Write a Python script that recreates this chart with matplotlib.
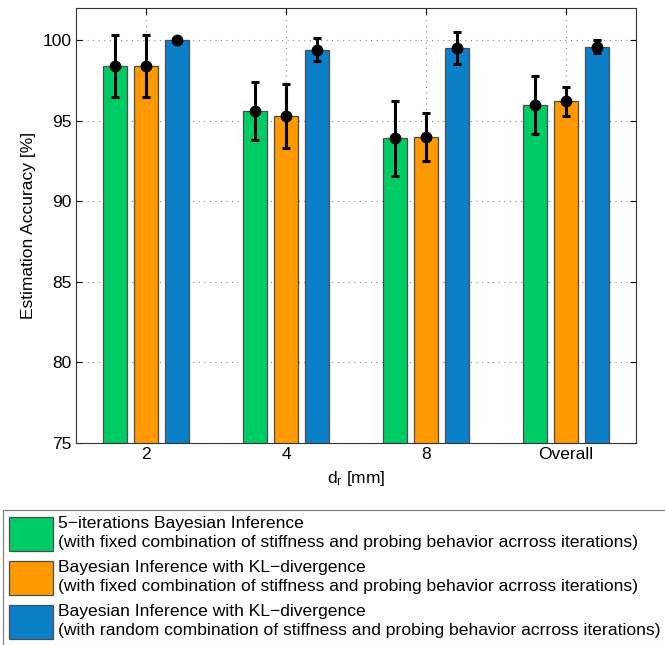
import numpy as np
import matplotlib
matplotlib.use("Agg")
import matplotlib.pyplot as plt
from matplotlib.patches import Patch

plt.rcParams["font.family"] = ["Liberation Sans", "DejaVu Sans"]
plt.rcParams["mathtext.fontset"] = "custom"
plt.rcParams["mathtext.rm"] = "Liberation Sans"
plt.rcParams["mathtext.it"] = "Liberation Sans:italic"

# -------------------------
# Data
# -------------------------
categories = ["2", "4", "8", "Overall"]

fixed_mean = [98.4, 95.6, 93.9, 96.0]
fixed_std = [1.9, 1.8, 2.3, 1.8]

kl_fixed_mean = [98.4, 95.3, 94.0, 96.2]
kl_fixed_std = [1.95, 2.0, 1.5, 0.88]

kl_random_mean = [100.0, 99.4, 99.5, 99.6]
kl_random_std = [0.0, 0.72, 1.0, 0.42]

series_labels = [
    "5\u2212iterations Bayesian Inference\n"
    "(with fixed combination of stiffness and probing behavior acrross iterations)",
    "Bayesian Inference with KL\u2212divergence\n"
    "(with fixed combination of stiffness and probing behavior acrross iterations)",
    "Bayesian Inference with KL\u2212divergence\n"
    "(with random combination of stiffness and probing behavior acrross iterations)",
]
colors = ["#00CC66", "#FF9900", "#0B80C8"]

means = [fixed_mean, kl_fixed_mean, kl_random_mean]
stds = [fixed_std, kl_fixed_std, kl_random_std]

# -------------------------
# Plot
# -------------------------
fig = plt.figure(figsize=(6.65, 6.45), dpi=100)
ax = fig.add_axes([76 / 665, 1 - 443 / 645, 560 / 665, 435 / 645])

x = np.arange(1, len(categories) + 1)
offsets = [-0.222, 0.0, 0.222]
width = 0.176

for m, s, off, c in zip(means, stds, offsets, colors):
    ax.bar(x + off, m, width, bottom=0, color=c, edgecolor="#4d4d4d",
           linewidth=0.9, zorder=2)
    ax.errorbar(x + off, m, yerr=s, fmt="o", color="black", markersize=7.5,
                elinewidth=2.2, capsize=3.2, capthick=2.2, zorder=3)

ax.set_xlim(0.5, 4.5)
ax.set_ylim(75, 102)
ax.set_xticks(x)
ax.set_xticklabels(categories)
ax.set_yticks([75, 80, 85, 90, 95, 100])

ax.grid(True, linestyle=(0, (1, 4)), color="#888888", linewidth=0.8)
ax.set_axisbelow(True)
ax.tick_params(direction="in", length=4, width=0.8, labelsize=12.5,
               top=True, right=True, pad=3)
for sp in ax.spines.values():
    sp.set_linewidth(0.8)
    sp.set_color("#333333")

ax.set_xlabel("d$_{\\mathrm{r}}$ [mm]", fontsize=12.5, labelpad=5)
ax.set_ylabel("Estimation Accuracy [%]", fontsize=12.5, labelpad=5)

# -------------------------
# Legend
# -------------------------
handles = [Patch(facecolor=c, edgecolor="#4d4d4d", linewidth=0.9) for c in colors]
leg = fig.legend(handles, series_labels, loc="upper left",
                 bbox_to_anchor=(3 / 665, 1 - 510 / 645), borderaxespad=0,
                 fontsize=12.6, frameon=True, fancybox=False,
                 handlelength=2.5, handleheight=2.6, handletextpad=0.3,
                 borderpad=0.35, labelspacing=0.55)
leg.get_frame().set_edgecolor("#555555")
leg.get_frame().set_linewidth(0.8)
for t in leg.get_texts():
    t.set_linespacing(1.3)

fig.savefig("out.png", dpi=100)
